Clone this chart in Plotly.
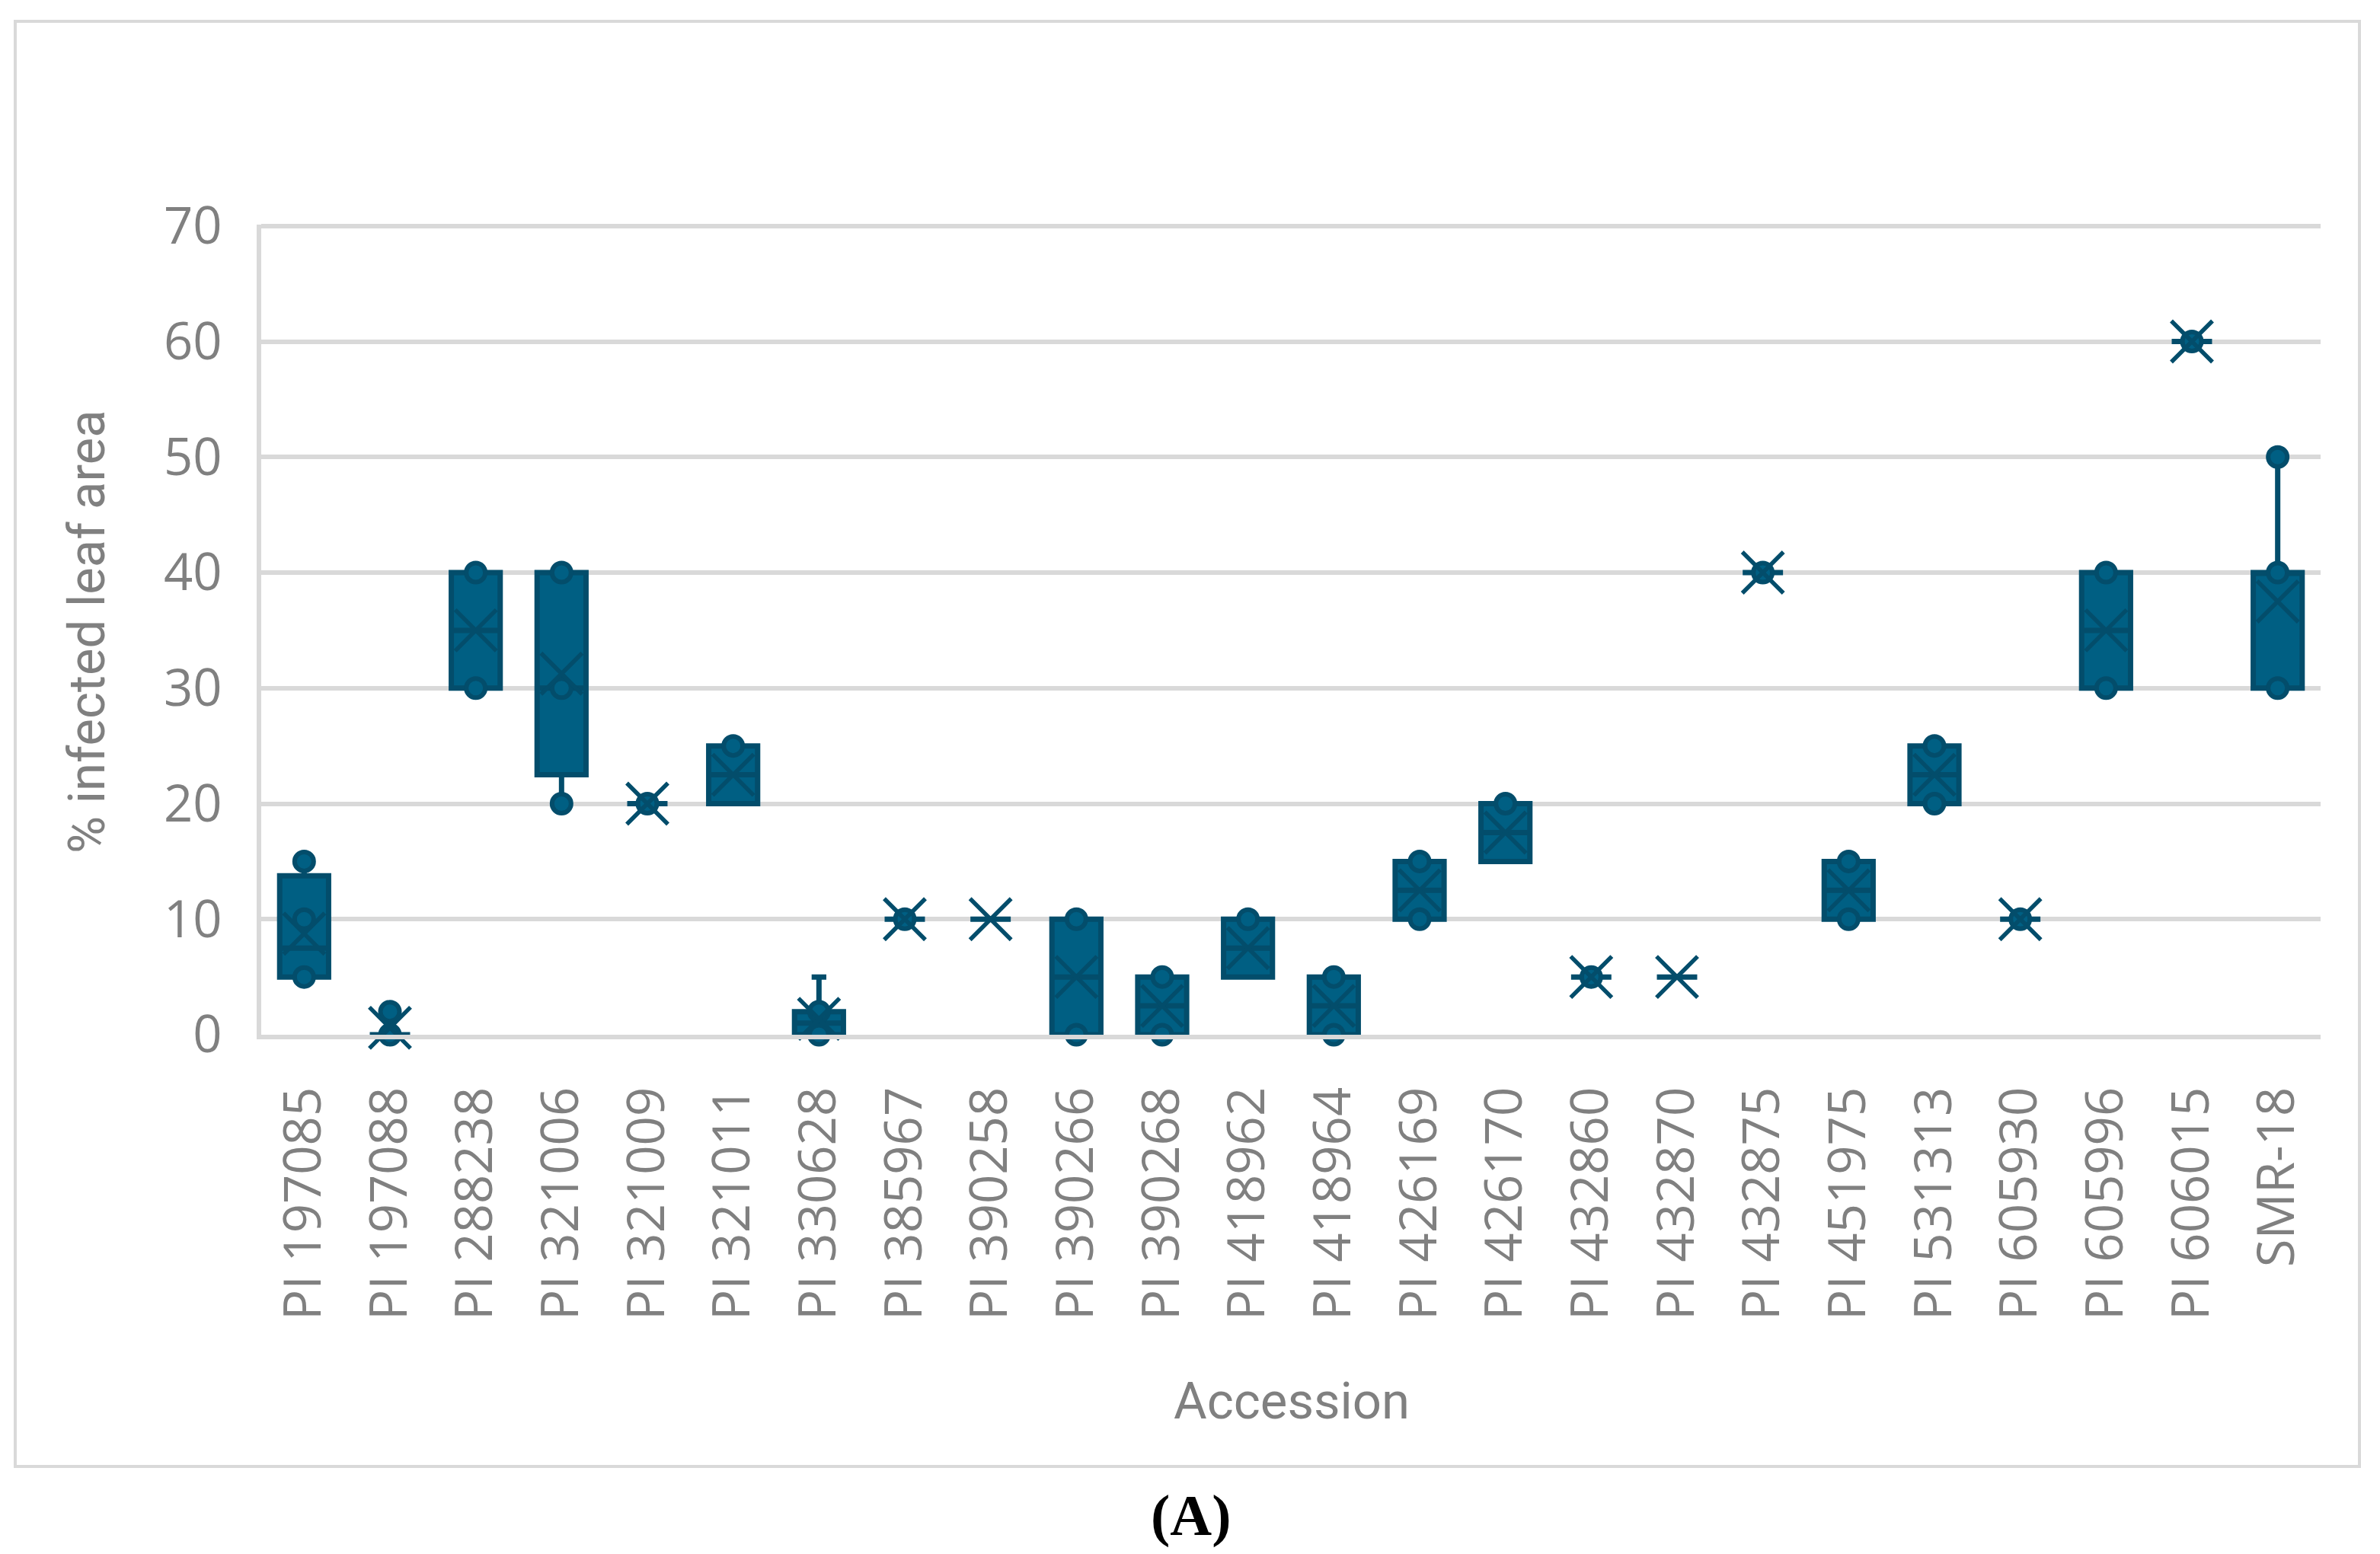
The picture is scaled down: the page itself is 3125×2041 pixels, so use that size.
import plotly.graph_objects as go

accessions = ["PI 197085", "PI 197088", "PI 288238", "PI 321006", "PI 321009", "PI 321011",
              "PI 330628", "PI 385967", "PI 390258", "PI 390266", "PI 390268", "PI 418962",
              "PI 418964", "PI 426169", "PI 426170", "PI 432860", "PI 432870", "PI 432875",
              "PI 451975", "PI 531313", "PI 605930", "PI 605996", "PI 606015", "SMR-18"]
q1 = [5, 0, 30, 22.5, 20, 20, 0, 10, 10, 0, 0, 5, 0, 10, 15, 5, 5, 40, 10, 20, 10, 30, 60, 30]
median = [7.5, 0, 35, 30, 20, 22.5, 1, 10, 10, 5, 2.5, 7.5, 2.5, 12.5, 17.5, 5, 5, 40, 12.5, 22.5, 10, 35, 60, 40]
q3 = [13.75, 0, 40, 40, 20, 25, 2, 10, 10, 10, 5, 10, 5, 15, 20, 5, 5, 40, 15, 25, 10, 40, 60, 40]
lower = [5, 0, 30, 20, 20, 20, 0, 10, 10, 0, 0, 5, 0, 10, 15, 5, 5, 40, 10, 20, 10, 30, 60, 30]
upper = [15, 2, 40, 40, 20, 25, 5, 10, 10, 10, 5, 10, 5, 15, 20, 5, 5, 40, 15, 25, 10, 40, 60, 50]
mean = [8.75, 0.6, 35, 31.25, 20, 22.5, 1.375, 10, 10, 5, 2.5, 7.5, 2.5, 12.5, 17.5, 5, 5, 40, 12.5, 22.5, 10, 35, 60, 37.5]
points = [[5, 10, 15], [0, 2], [30, 40], [20, 30, 40], [20], [25], [0, 2], [10], [], [0, 10],
          [0, 5], [10], [0, 5], [10, 15], [20], [5], [], [40], [10, 15], [20, 25], [10], [30, 40], [60], [30, 40, 50]]
y_ticks = [0, 10, 20, 30, 40, 50, 60, 70]

FILL = "#005F83"
DARK = "#034D6B"
GRID = "#D9D9D9"
TXT = "#808080"

fig = go.Figure()

idx_box = [i for i in range(len(accessions)) if q1[i] != q3[i]]
idx_flat = [i for i in range(len(accessions)) if q1[i] == q3[i]]

for idx, w in ((idx_box, 0.57), (idx_flat, 0.47)):
    fig.add_trace(go.Box(
        x=[accessions[i] for i in idx],
        q1=[q1[i] for i in idx],
        median=[median[i] for i in idx],
        q3=[q3[i] for i in idx],
        lowerfence=[lower[i] for i in idx],
        upperfence=[upper[i] for i in idx],
        boxpoints=False,
        width=w,
        whiskerwidth=0.3,
        fillcolor=FILL,
        line=dict(color=DARK, width=7),
        showlegend=False,
        hoverinfo="skip",
    ))

px_, py_ = [], []
for a, pts in zip(accessions, points):
    for v in pts:
        px_.append(a)
        py_.append(v)

fig.add_trace(go.Scatter(
    x=px_, y=py_, mode="markers", cliponaxis=False,
    marker=dict(symbol="circle", size=25, color=FILL, line=dict(color=DARK, width=6)),
    showlegend=False, hoverinfo="skip",
))
fig.add_trace(go.Scatter(
    x=accessions, y=mean, mode="markers", cliponaxis=False,
    marker=dict(symbol="x-thin", size=54, color=DARK, line=dict(color=DARK, width=5.5)),
    showlegend=False, hoverinfo="skip",
))

W, H = 3110, 2025
L, R, T, B = 335, 71, 287, 674
pw = W - L - R
ph = H - T - B

def paper_x(page_x):
    return (page_x - 8 - L) / pw

def paper_y(page_y):
    return (H - B - (page_y - 8)) / ph

fig.update_layout(
    width=W, height=H,
    margin=dict(l=L, r=R, t=T, b=B),
    paper_bgcolor="white", plot_bgcolor="white",
    boxmode="overlay",
    xaxis=dict(
        type="category", categoryorder="array", categoryarray=accessions,
        tickangle=-90, tickfont=dict(family="Open Sans", size=67, color=TXT),
        showgrid=False, showline=True, linecolor=GRID, linewidth=6,
        ticks="", ticklabelstandoff=36, layer="above traces",
        range=[-0.5, len(accessions) - 0.5],
    ),
    yaxis=dict(
        range=[0, 70.12], tickvals=y_ticks, ticktext=[str(v) for v in y_ticks],
        tickfont=dict(family="Open Sans", size=67, color=TXT),
        showgrid=True, gridcolor=GRID, gridwidth=6,
        showline=True, linecolor=GRID, linewidth=6, zeroline=False,
        ticks="", ticklabelstandoff=32, layer="above traces",
    ),
    shapes=[dict(type="rect", xref="paper", yref="paper",
                 x0=paper_x(20), x1=paper_x(3098), y0=paper_y(1926), y1=paper_y(28),
                 line=dict(color=GRID, width=4), fillcolor="rgba(0,0,0,0)", layer="below")],
    annotations=[
        dict(text="% infected leaf area", xref="paper", yref="paper",
             x=paper_x(114), y=paper_y(830), textangle=-90, showarrow=False,
             xanchor="center", yanchor="middle",
             font=dict(family="Roboto", size=67, color=TXT)),
        dict(text="Accession", xref="paper", yref="paper",
             x=paper_x(1696), y=paper_y(1840), showarrow=False,
             xanchor="center", yanchor="middle",
             font=dict(family="Roboto", size=67, color=TXT)),
        dict(text="<b>(A)</b>", xref="paper", yref="paper",
             x=paper_x(1564), y=paper_y(1990), showarrow=False,
             xanchor="center", yanchor="middle",
             font=dict(family="Liberation Serif", size=76, color="black")),
    ],
)

fig.write_html("out.html")
